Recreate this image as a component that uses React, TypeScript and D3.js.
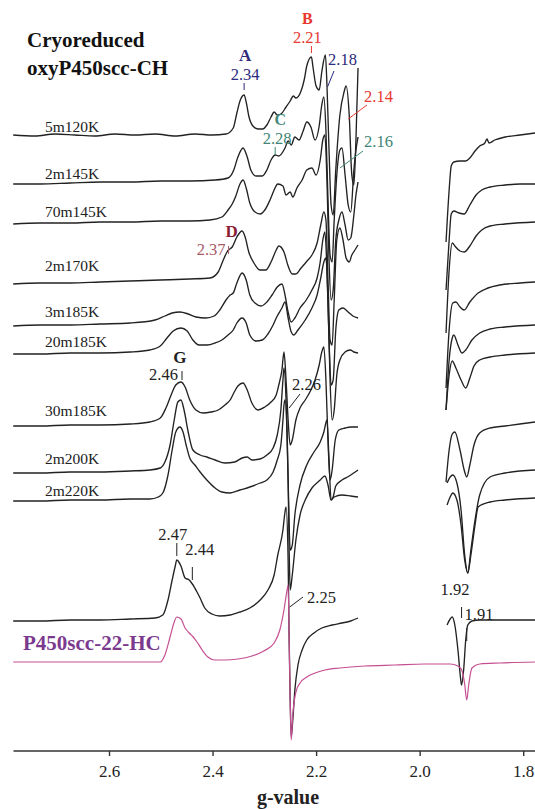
import React from 'react';
import * as d3 from 'd3';

type P = [number, number];

// g-value axis ticks
const gTicks = [2.6, 2.4, 2.2, 2.0, 1.8];

// sample names (top to bottom) and baseline offsets of the stacked spectra (a.u.)
const sampleLabels = ['5m120K', '2m145K', '70m145K', '2m170K', '3m185K', '20m185K', '30m185K', '2m200K', '2m220K', ''];
const baselineOffsets = [614, 566, 526, 466, 424, 396, 324, 277, 249, 129];
const refOffset = 87;

// each spectrum: low-field segment and high-field segment, [g, signal]
const s5m120K_lo: P[] = [[2.786,0],[2.744,-1],[2.705,1],[2.667,0],[2.628,-1],[2.589,1],[2.551,0],[2.512,1],[2.473,-1],[2.435,1],[2.402,0],[2.375,1],[2.361,7],[2.354,22],[2.348,34],[2.340,40],[2.336,33],[2.331,19],[2.323,9],[2.313,6],[2.304,6],[2.296,10],[2.288,18],[2.282,23],[2.276,20],[2.269,21],[2.259,28],[2.251,34],[2.245,39],[2.240,37],[2.230,44],[2.224,55],[2.219,69],[2.210,78],[2.207,68],[2.201,49],[2.195,45],[2.190,63],[2.183,80],[2.180,50],[2.176,-15],[2.172,-70],[2.168,-80],[2.163,-35],[2.155,20],[2.147,43],[2.143,49],[2.137,20],[2.132,-40],[2.128,-50],[2.124,-5],[2.120,67]];
const s5m120K_hi: P[] = [[1.950,-107],[1.944,-55],[1.940,-31],[1.935,-27],[1.923,-26],[1.912,-26],[1.904,-23],[1.894,-16],[1.885,-11],[1.875,-8],[1.871,-4],[1.867,-8],[1.856,-5],[1.836,-2],[1.807,0],[1.778,2]];

const s2m145K_lo: P[] = [[2.786,-1],[2.734,-1],[2.676,0],[2.618,1],[2.560,1],[2.502,2],[2.445,2],[2.396,3],[2.371,5],[2.360,13],[2.352,26],[2.342,35],[2.334,26],[2.327,13],[2.317,7],[2.305,7],[2.296,13],[2.288,23],[2.280,28],[2.273,27],[2.261,35],[2.255,42],[2.249,38],[2.242,46],[2.234,43],[2.226,52],[2.219,61],[2.211,56],[2.203,43],[2.195,57],[2.190,78],[2.186,86],[2.182,53],[2.178,-17],[2.174,-72],[2.170,-79],[2.166,-37],[2.161,8],[2.155,33],[2.151,35],[2.145,8],[2.139,-22],[2.134,-29],[2.128,13],[2.124,33],[2.120,46]];
const s2m145K_hi: P[] = [[1.950,-107],[1.944,-57],[1.940,-31],[1.935,-28],[1.925,-30],[1.915,-31],[1.904,-22],[1.892,-12],[1.881,-7],[1.865,-4],[1.836,-2],[1.807,-1],[1.778,-1]];

const s70m145K_lo: P[] = [[2.786,-1],[2.734,0],[2.676,0],[2.618,1],[2.560,1],[2.502,2],[2.445,2],[2.406,3],[2.383,6],[2.371,13],[2.363,19],[2.356,27],[2.348,39],[2.342,43],[2.336,35],[2.329,20],[2.319,11],[2.309,9],[2.300,13],[2.290,23],[2.282,33],[2.275,39],[2.265,37],[2.259,28],[2.251,31],[2.246,26],[2.238,35],[2.228,43],[2.219,53],[2.209,55],[2.201,48],[2.193,63],[2.188,83],[2.184,88],[2.180,43],[2.176,-37],[2.172,-77],[2.168,-67],[2.163,-17],[2.157,3],[2.151,11],[2.145,-2],[2.139,-17],[2.134,-15],[2.128,8],[2.124,28],[2.120,41]];
const s70m145K_hi: P[] = [[1.950,-110],[1.944,-47],[1.938,-20],[1.933,-23],[1.923,-28],[1.915,-29],[1.904,-23],[1.892,-13],[1.881,-7],[1.865,-3],[1.836,-1],[1.778,1]];

const s2m170K_lo: P[] = [[2.786,-1],[2.734,0],[2.676,0],[2.618,1],[2.560,2],[2.502,3],[2.445,4],[2.406,5],[2.390,11],[2.381,22],[2.373,31],[2.370,33],[2.363,36],[2.354,46],[2.344,52],[2.338,46],[2.331,31],[2.321,20],[2.309,13],[2.298,13],[2.288,21],[2.278,33],[2.273,37],[2.263,31],[2.255,17],[2.247,9],[2.240,9],[2.230,15],[2.220,21],[2.209,28],[2.199,40],[2.192,58],[2.186,71],[2.182,63],[2.178,3],[2.174,-57],[2.170,-62],[2.166,-17],[2.161,43],[2.155,55],[2.149,43],[2.143,25],[2.137,21],[2.132,28],[2.126,33],[2.120,38]];
const s2m170K_hi: P[] = [[1.950,-105],[1.944,-47],[1.937,-20],[1.931,-19],[1.923,-24],[1.915,-27],[1.904,-19],[1.888,-10],[1.869,-5],[1.846,-2],[1.807,0],[1.778,1]];

const s3m185K_lo: P[] = [[2.786,-1],[2.734,0],[2.676,0],[2.618,1],[2.560,2],[2.512,5],[2.493,9],[2.479,12],[2.464,13],[2.448,11],[2.433,8],[2.414,7],[2.398,9],[2.387,15],[2.375,25],[2.367,30],[2.361,32],[2.354,42],[2.344,52],[2.336,45],[2.329,30],[2.319,22],[2.307,19],[2.296,23],[2.286,30],[2.276,38],[2.267,41],[2.261,30],[2.255,13],[2.249,3],[2.242,7],[2.232,17],[2.220,25],[2.209,35],[2.199,47],[2.193,63],[2.188,85],[2.184,93],[2.180,55],[2.176,-15],[2.172,-60],[2.168,-55],[2.163,-5],[2.157,15],[2.149,17],[2.139,13],[2.130,9],[2.120,7]];
const s3m185K_hi: P[] = [[1.950,-85],[1.944,-35],[1.938,-13],[1.935,-10],[1.927,-20],[1.919,-28],[1.912,-25],[1.900,-15],[1.885,-8],[1.865,-4],[1.836,-2],[1.778,0]];

const s20m185K_lo: P[] = [[2.786,-1],[2.734,-1],[2.676,0],[2.618,0],[2.560,1],[2.522,3],[2.502,7],[2.489,15],[2.477,22],[2.462,25],[2.450,22],[2.439,13],[2.427,8],[2.412,8],[2.396,10],[2.383,13],[2.371,18],[2.361,23],[2.354,30],[2.344,35],[2.336,30],[2.329,18],[2.317,12],[2.305,13],[2.294,19],[2.284,28],[2.276,37],[2.267,45],[2.261,51],[2.255,35],[2.249,21],[2.244,18],[2.236,23],[2.222,33],[2.209,45],[2.199,58],[2.192,75],[2.186,91],[2.182,95],[2.178,53],[2.174,-27],[2.170,-67],[2.166,-57],[2.161,-22],[2.155,-7],[2.145,1],[2.135,3],[2.128,1],[2.120,0]];
const s20m185K_hi: P[] = [[1.950,-57],[1.944,-22],[1.938,-8],[1.931,-15],[1.921,-27],[1.912,-35],[1.904,-25],[1.896,-13],[1.885,-7],[1.865,-4],[1.836,-2],[1.778,0]];

const s30m185K_lo: P[] = [[2.786,-1],[2.734,-1],[2.676,0],[2.618,0],[2.560,1],[2.522,3],[2.502,7],[2.491,17],[2.481,30],[2.472,40],[2.462,43],[2.454,38],[2.445,25],[2.433,15],[2.419,12],[2.404,13],[2.390,15],[2.377,20],[2.367,25],[2.360,32],[2.352,39],[2.342,42],[2.334,35],[2.325,22],[2.313,15],[2.300,18],[2.288,23],[2.278,30],[2.273,40],[2.267,55],[2.263,73],[2.259,45],[2.255,5],[2.251,-20],[2.247,-15],[2.240,5],[2.232,17],[2.222,25],[2.213,33],[2.203,45],[2.195,60],[2.190,73],[2.186,78],[2.182,45],[2.178,-15],[2.174,-55],[2.170,-45],[2.164,-15],[2.157,-5],[2.145,-3],[2.134,-2],[2.120,-2]];
const s30m185K_hi: P[] = [[1.950,-57],[1.944,-25],[1.938,-9],[1.933,-7],[1.923,-25],[1.915,-45],[1.910,-52],[1.904,-40],[1.896,-20],[1.885,-8],[1.865,-3],[1.836,-1],[1.778,3]];

const s2m200K_lo: P[] = [[2.786,-1],[2.734,-1],[2.676,0],[2.618,0],[2.560,1],[2.522,2],[2.502,4],[2.493,10],[2.483,27],[2.475,52],[2.468,70],[2.462,72],[2.456,62],[2.448,40],[2.439,22],[2.425,17],[2.412,15],[2.396,12],[2.377,9],[2.358,10],[2.344,14],[2.334,15],[2.325,12],[2.309,13],[2.296,17],[2.284,24],[2.276,37],[2.269,62],[2.265,92],[2.263,104],[2.259,72],[2.255,-8],[2.251,-78],[2.247,-73],[2.242,-43],[2.232,-13],[2.219,7],[2.205,20],[2.193,30],[2.186,40],[2.180,52],[2.176,12],[2.172,-28],[2.168,-25],[2.163,-14],[2.151,-8],[2.137,-4],[2.120,2]];
const s2m200K_hi: P[] = [[1.948,-11],[1.942,-5],[1.937,-3],[1.929,-11],[1.921,-38],[1.914,-83],[1.908,-101],[1.902,-78],[1.894,-48],[1.885,-23],[1.865,-5],[1.836,-1],[1.778,2]];

const s2m220K_lo: P[] = [[2.786,-1],[2.734,-1],[2.676,0],[2.618,0],[2.560,1],[2.522,1],[2.506,3],[2.497,7],[2.487,25],[2.479,50],[2.472,68],[2.464,73],[2.458,68],[2.452,55],[2.445,42],[2.435,35],[2.425,28],[2.412,20],[2.396,12],[2.383,8],[2.367,7],[2.348,10],[2.329,13],[2.309,17],[2.296,20],[2.284,28],[2.276,40],[2.269,55],[2.265,80],[2.263,95],[2.261,100],[2.257,70],[2.255,20],[2.253,-50],[2.251,-90],[2.247,-75],[2.240,-40],[2.232,-15],[2.222,0],[2.209,12],[2.193,20],[2.184,24],[2.178,15],[2.172,0],[2.166,3],[2.151,5],[2.134,4],[2.120,3]];
const s2m220K_hi: P[] = [[1.948,-5],[1.942,3],[1.937,7],[1.929,0],[1.921,-25],[1.914,-60],[1.908,-73],[1.902,-55],[1.894,-25],[1.888,-7],[1.865,-2],[1.836,0],[1.778,2]];

const sFinal_lo: P[] = [[2.786,-1],[2.734,-1],[2.676,0],[2.618,0],[2.560,1],[2.512,2],[2.497,5],[2.487,20],[2.479,40],[2.473,54],[2.470,60],[2.462,54],[2.454,42],[2.446,40],[2.440,36],[2.431,28],[2.425,22],[2.416,12],[2.402,6],[2.387,4],[2.367,5],[2.348,8],[2.329,12],[2.309,20],[2.294,30],[2.282,45],[2.275,65],[2.265,90],[2.261,108],[2.259,113],[2.255,60],[2.253,-20],[2.251,-80],[2.249,-117],[2.246,-100],[2.242,-70],[2.236,-45],[2.228,-30],[2.219,-20],[2.205,-13],[2.190,-8],[2.170,-5],[2.151,-3],[2.134,-1],[2.120,2]];
const sFinal_hi: P[] = [[1.948,-5],[1.942,1],[1.938,3],[1.933,-5],[1.927,-30],[1.922,-58],[1.920,-65],[1.916,-50],[1.912,-20],[1.908,-5],[1.900,-1],[1.885,0],[1.846,0],[1.778,0]];

// reference low-spin complex, recorded over the whole field range
const sRef: P[] = [[2.786,0],[2.696,0],[2.618,0],[2.560,0],[2.502,0],[2.493,7],[2.483,25],[2.475,40],[2.470,45],[2.462,43],[2.454,34],[2.446,29],[2.440,26],[2.431,20],[2.421,12],[2.410,5],[2.396,2],[2.377,2],[2.352,3],[2.325,6],[2.302,11],[2.282,19],[2.271,32],[2.263,52],[2.257,72],[2.255,77],[2.253,22],[2.251,-38],[2.249,-78],[2.246,-53],[2.240,-30],[2.232,-21],[2.219,-15],[2.203,-11],[2.184,-8],[2.155,-6],[2.107,-4],[2.049,-3],[1.991,-2],[1.942,-2],[1.927,-4],[1.919,-9],[1.914,-22],[1.910,-38],[1.906,-22],[1.900,-6],[1.885,-2],[1.846,-1],[1.778,0]];

const lowSegments = [s5m120K_lo, s2m145K_lo, s70m145K_lo, s2m170K_lo, s3m185K_lo, s20m185K_lo, s30m185K_lo, s2m200K_lo, s2m220K_lo, sFinal_lo];
const highSegments = [s5m120K_hi, s2m145K_hi, s70m145K_hi, s2m170K_hi, s3m185K_hi, s20m185K_hi, s30m185K_hi, s2m200K_hi, s2m220K_hi, sFinal_hi];

// label baselines (px) for the sample names
const labelY = [132, 179, 217, 271, 317, 347, 416, 464, 496];

const NAVY = '#2d2a7c';
const RED = '#e8372f';
const TEAL = '#3f8676';
const BLACK = '#222';
const SERIF = "'Liberation Serif', 'Times New Roman', serif";

export default function App() {
  const W = 535;
  const H = 809;
  const axisY = 751;

  const x = d3.scaleLinear().domain([2.6, 1.8]).range([109.5, 523.7]);
  const y = d3.scaleLinear().domain([0, 740]).range([749, 9]);

  const lineFor = (off: number) =>
    d3.line<P>()
      .x((d) => x(d[0]))
      .y((d) => y(off + d[1]))
      .curve(d3.curveMonotoneX);

  // vertical marker at a g-value
  const mark = (g: number, y1: number, y2: number, color: string) => (
    <line x1={x(g)} x2={x(g)} y1={y1} y2={y2} stroke={color} strokeWidth={1} />
  );

  return (
    <svg width={W} height={H} style={{ position: 'absolute', left: 0, top: 0, background: '#fff' }} fontFamily={SERIF}>
      {/* stacked spectra */}
      {lowSegments.map((seg, i) => (
        <path key={'lo' + i} d={lineFor(baselineOffsets[i])(seg) || ''} fill="none" stroke={BLACK} strokeWidth={1.35} strokeLinejoin="round" />
      ))}
      {highSegments.map((seg, i) => (
        <path key={'hi' + i} d={lineFor(baselineOffsets[i])(seg) || ''} fill="none" stroke={BLACK} strokeWidth={1.35} strokeLinejoin="round" />
      ))}
      <path d={lineFor(refOffset)(sRef) || ''} fill="none" stroke="#c54f92" strokeWidth={1.2} />

      {/* sample labels */}
      {sampleLabels.map((s, i) =>
        s ? (
          <text key={s} x={45} y={labelY[i]} fontSize={15.5} fill={BLACK}>
            {s}
          </text>
        ) : null
      )}
      <text x={23} y={650} fontSize={21} fontWeight="bold" fill="#7b3a8e">P450scc-22-HC</text>

      {/* title */}
      <text x={27} y={47} fontSize={21} fontWeight="bold" fill="#111">Cryoreduced</text>
      <text x={27} y={75} fontSize={21} fontWeight="bold" fill="#111">oxyP450scc-CH</text>

      {/* peak annotations */}
      <text x={x(2.34) + 1} y={61} fontSize={17} fontWeight="bold" fill={NAVY} textAnchor="middle">A</text>
      <text x={x(2.34) + 1} y={80} fontSize={16.5} fill={NAVY} textAnchor="middle">2.34</text>
      {mark(2.34, 83, 90, NAVY)}

      <text x={x(2.21) - 4} y={24} fontSize={16} fontWeight="bold" fill={RED} textAnchor="middle">B</text>
      <text x={x(2.21) - 4} y={43} fontSize={16.5} fill={RED} textAnchor="middle">2.21</text>
      {mark(2.21, 46, 53, RED)}

      <text x={328} y={65} fontSize={16.5} fill={NAVY}>2.18</text>
      <line x1={334} y1={71} x2={x(2.179)} y2={87} stroke={NAVY} strokeWidth={1} />

      <text x={364} y={102} fontSize={16.5} fill={RED}>2.14</text>
      <line x1={367} y1={105} x2={x(2.139)} y2={119} stroke={RED} strokeWidth={1} />

      <text x={x(2.28) + 5} y={125} fontSize={16} fontWeight="bold" fill={TEAL} textAnchor="middle">C</text>
      <text x={x(2.28) + 2} y={144} fontSize={16.5} fill={TEAL} textAnchor="middle">2.28</text>
      {mark(2.28, 147, 155, TEAL)}

      <text x={364} y={147} fontSize={16.5} fill={TEAL}>2.16</text>
      <line x1={363} y1={151} x2={x(2.155)} y2={168} stroke={TEAL} strokeWidth={1} />

      <text x={x(2.37) + 3} y={237} fontSize={17} fontWeight="bold" fill="#8c1f35" textAnchor="middle">D</text>
      <text x={x(2.37) - 3} y={255} fontSize={16.5} fill="#a85a66" textAnchor="end">2.37</text>
      {mark(2.37, 246, 254, '#a85a66')}

      <text x={x(2.46) - 2} y={363} fontSize={17} fontWeight="bold" fill={BLACK} textAnchor="middle">G</text>
      <text x={x(2.46) - 4} y={380} fontSize={16.5} fill={BLACK} textAnchor="end">2.46</text>
      {mark(2.46, 371, 380, BLACK)}

      <text x={292} y={390} fontSize={16.5} fill={BLACK}>2.26</text>
      <line x1={300} y1={394} x2={x(2.253)} y2={408} stroke={BLACK} strokeWidth={1} />

      <text x={x(2.47) - 4} y={540} fontSize={16.5} fill={BLACK} textAnchor="middle">2.47</text>
      {mark(2.47, 543, 556, BLACK)}
      <text x={x(2.44) - 7} y={555} fontSize={16.5} fill={BLACK}>2.44</text>
      {mark(2.44, 567, 580, BLACK)}

      <text x={307} y={603} fontSize={16.5} fill={BLACK}>2.25</text>
      <line x1={303} y1={597} x2={x(2.25) - 1} y2={607} stroke={BLACK} strokeWidth={1} />

      <text x={x(1.92) - 21} y={595} fontSize={16.5} fill={BLACK}>1.92</text>
      {mark(1.92, 607, 618, BLACK)}
      <text x={x(1.92) + 3} y={620} fontSize={16.5} fill={BLACK}>1.91</text>
      {mark(1.91, 628, 641, BLACK)}

      {/* g-value axis */}
      <line x1={13.5} x2={W} y1={axisY} y2={axisY} stroke="#333" strokeWidth={1.6} />
      {gTicks.map((t) => (
        <g key={t}>
          <line x1={x(t)} x2={x(t)} y1={axisY} y2={axisY + 5} stroke="#333" strokeWidth={1.4} />
          <text x={x(t)} y={777} fontSize={17} textAnchor="middle" fill="#222">
            {t.toFixed(1)}
          </text>
        </g>
      ))}
      <text x={288} y={804} fontSize={20} fontWeight="bold" textAnchor="middle" fill="#222">g-value</text>
    </svg>
  );
}
